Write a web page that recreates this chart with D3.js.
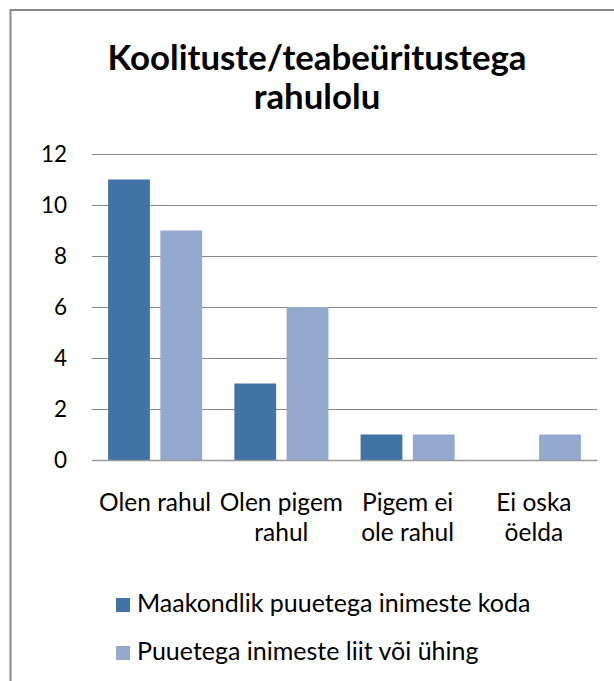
<!DOCTYPE html>
<html>
<head>
<meta charset="utf-8">
<script src="https://cdn.jsdelivr.net/npm/d3@7"></script>
<style>
  html, body { margin: 0; padding: 0; background: #fff; }
  svg { display: block; }
  text { font-family: Lato, "Open Sans", sans-serif; fill: #000; }
</style>
</head>
<body>
<svg id="chart" width="614" height="681"></svg>
<script>
const titleLines = ["Koolituste/teabeüritustega", "rahulolu"];
const categories = ["Olen rahul", "Olen pigem rahul", "Pigem ei ole rahul", "Ei oska öelda"];
const categoryLines = [["Olen rahul"], ["Olen pigem", "rahul"], ["Pigem ei", "ole rahul"], ["Ei oska", "öelda"]];
const seriesNames = ["Maakondlik puuetega inimeste koda", "Puuetega inimeste liit või ühing"];
const seriesKoda = [11, 3, 1, 0];
const seriesLiit = [9, 6, 1, 1];
const yTicks = [0, 2, 4, 6, 8, 10, 12];
const colors = ["#4273A7", "#95A9CF"];

const svg = d3.select("#chart");
const W = 614, H = 681;
const plot = { left: 92, right: 597, top: 154, bottom: 460 };

// outer frame (cut off at right and bottom)
svg.append("path")
  .attr("d", `M10.5,${H} L10.5,10 L${W},10`)
  .attr("fill", "none")
  .attr("stroke", "#8a8a8a")
  .attr("stroke-width", 2);

// title
svg.append("text")
  .attr("text-anchor", "middle")
  .style("font-weight", "bold")
  .style("font-size", "34.8px")
  .selectAll("tspan")
  .data(titleLines)
  .join("tspan")
  .attr("x", 317)
  .attr("y", (d, i) => 70 + i * 39)
  .text(d => d);

const x0 = d3.scaleBand().domain(categories).range([plot.left, plot.right])
  .paddingInner(0.255).paddingOuter(0.1275);
const x1 = d3.scaleBand().domain(seriesNames).range([0, x0.bandwidth()]).paddingInner(0.2);
const y = d3.scaleLinear().domain([0, 12]).range([plot.bottom, plot.top]);

// gridlines + y labels via axis
const yAxis = d3.axisLeft(y).tickValues(yTicks).tickSize(-(plot.right - plot.left)).tickPadding(25);
const gy = svg.append("g").attr("transform", `translate(${plot.left},0)`).call(yAxis);
gy.select(".domain").remove();
gy.selectAll(".tick line").attr("stroke", "#878787").attr("stroke-width", 1);
gy.selectAll(".tick text").style("font-size", "22.5px").attr("fill", "#000").attr("font-family", "Lato, sans-serif");

// bars
const data = categories.map((c, i) => ({ cat: c, vals: [seriesKoda[i], seriesLiit[i]] }));
const groups = svg.append("g").selectAll("g").data(data).join("g")
  .attr("transform", d => `translate(${x0(d.cat)},0)`);
groups.selectAll("rect")
  .data(d => d.vals.map((v, j) => ({ s: seriesNames[j], v, j })))
  .join("rect")
  .filter(d => d.v > 0)
  .attr("x", d => x1(d.s))
  .attr("width", x1.bandwidth())
  .attr("y", d => y(d.v))
  .attr("height", d => y(0) - y(d.v))
  .attr("fill", d => colors[d.j]);

// x axis line
const xAxis = d3.axisBottom(x0).tickSize(0).tickFormat("");
const gx = svg.append("g").attr("transform", `translate(0,${plot.bottom})`).call(xAxis);
gx.select(".domain").attr("stroke", "#9a9a9a").attr("stroke-width", 1.5);

// category labels
categories.forEach((c, i) => {
  const cx = x0(c) + x0.bandwidth() / 2;
  svg.append("text")
    .attr("text-anchor", "middle")
    .style("font-size", "24.5px")
    .selectAll("tspan")
    .data(categoryLines[i])
    .join("tspan")
    .attr("x", cx)
    .attr("y", (d, k) => 511 + k * 30)
    .text(d => d);
});

// legend
const legend = svg.append("g");
seriesNames.forEach((s, i) => {
  const by = 612 + i * 48;
  legend.append("rect")
    .attr("x", 116).attr("y", by - 14)
    .attr("width", 14).attr("height", 14)
    .attr("fill", colors[i]);
  legend.append("text")
    .attr("x", 137).attr("y", by)
    .style("font-size", "25px")
    .text(s);
});
</script>
</body>
</html>
